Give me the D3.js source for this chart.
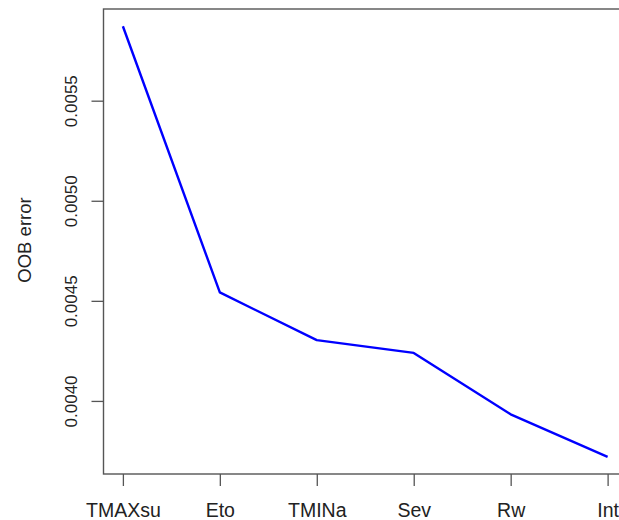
<!DOCTYPE html>
<html>
<head>
<meta charset="utf-8">
<script src="https://cdn.jsdelivr.net/npm/d3@7"></script>
<style>
  html, body { margin: 0; padding: 0; background: #fff; }
  svg { display: block; font-family: "Liberation Sans", Arial, sans-serif; }
</style>
</head>
<body>
<svg id="chart" width="619" height="520"></svg>
<script>
// Variables ordered by how much the OOB error changes
const categories = ["TMAXsu", "Eto", "TMINa", "Sev", "Rw", "Int"];
const oobError = [0.005872, 0.004542, 0.004304, 0.004240, 0.003933, 0.003721];
const yTicks = [0.0040, 0.0045, 0.0050, 0.0055];
const yLabel = "OOB error";

const svg = d3.select("#chart");
const frame = { left: 103.5, top: 9, right: 627, bottom: 474 };

// Category positions 1..n with 4% padding of the range on each side
const n = categories.length;
const xPad = (n - 1) * 0.04;
const x = d3.scaleLinear()
  .domain([1 - xPad, n + xPad])
  .range([frame.left, frame.right]);

const yMin = d3.min(oobError), yMax = d3.max(oobError);
const yPad = (yMax - yMin) * 0.04;
const y = d3.scaleLinear()
  .domain([yMin - yPad, yMax + yPad])
  .range([frame.bottom, frame.top]);

const ink = "#555";
const textInk = "#222";

// Line
const line = d3.line()
  .x((d, i) => x(i + 1))
  .y(d => y(d));

svg.append("path")
  .datum(oobError)
  .attr("d", line)
  .attr("fill", "none")
  .attr("stroke", "#0000ff")
  .attr("stroke-width", 2.4)
  .attr("stroke-linejoin", "round");

// Box around the plotting region
svg.append("rect")
  .attr("x", frame.left)
  .attr("y", frame.top)
  .attr("width", frame.right - frame.left)
  .attr("height", frame.bottom - frame.top)
  .attr("fill", "none")
  .attr("stroke", ink)
  .attr("stroke-width", 1.4);

// Bottom axis
const xAxis = d3.axisBottom(x)
  .tickValues(d3.range(1, n + 1))
  .tickFormat(i => categories[i - 1])
  .tickSize(12)
  .tickPadding(17);

const gx = svg.append("g")
  .attr("transform", `translate(0,${frame.bottom})`)
  .call(xAxis);
gx.select(".domain").remove();
gx.selectAll(".tick line").attr("stroke", ink).attr("stroke-width", 1.3);
gx.selectAll(".tick text")
  .attr("fill", textInk)
  .attr("font-size", 19.5)
  .attr("dy", "0.71em");

// Left axis with rotated labels
const yAxis = d3.axisLeft(y)
  .tickValues(yTicks)
  .tickFormat(d3.format(".4f"))
  .tickSize(12);

const gy = svg.append("g")
  .attr("transform", `translate(${frame.left},0)`)
  .call(yAxis);
gy.select(".domain").remove();
gy.selectAll(".tick line").attr("stroke", ink).attr("stroke-width", 1.3);
gy.selectAll(".tick text")
  .attr("fill", textInk)
  .attr("font-size", 17)
  .attr("x", null)
  .attr("dy", null)
  .attr("text-anchor", "middle")
  .attr("transform", `translate(-26.5,0) rotate(-90)`);

// Axis title
svg.append("text")
  .attr("transform", `translate(31,240) rotate(-90)`)
  .attr("text-anchor", "middle")
  .attr("fill", textInk)
  .attr("font-size", 18.5)
  .text(yLabel);
</script>
</body>
</html>
